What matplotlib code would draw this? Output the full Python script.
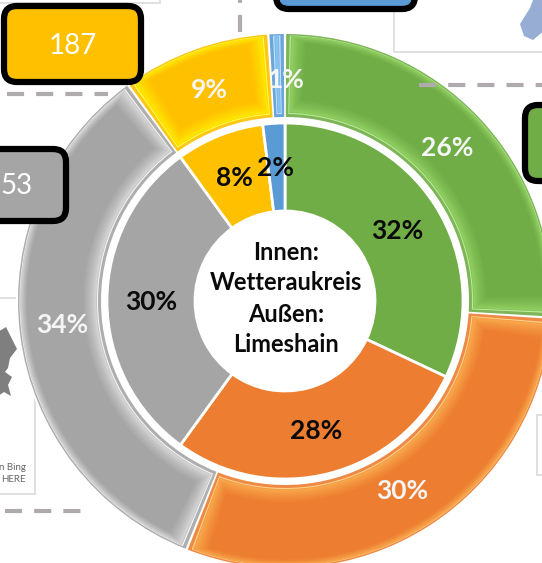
import matplotlib
matplotlib.use('Agg')
import matplotlib.pyplot as plt
import numpy as np
from matplotlib.colors import to_rgb
from matplotlib.patches import Wedge, FancyBboxPatch, Rectangle, Polygon

plt.rcParams['font.family'] = ['Lato', 'DejaVu Sans']

# clockwise from 12 o'clock
outer_values = [26, 30, 34, 9, 1]
inner_values = [32, 28, 30, 8, 2]
outer_labels = ['26%', '30%', '34%', '9%', '1%']
inner_labels = ['32%', '28%', '30%', '8%', '2%']
base_colors = ['#70AD47', '#ED7D31', '#A5A5A5', '#FFC000', '#5B9BD5']
glow_colors = ['#A4E472', '#FFC35C', '#F4F4F4', '#FFFF00', '#A6DCFF']
center_lines = ['Innen:', 'Wetteraukreis', 'Außen:', 'Limeshain']

W, H = 542, 563
cx, cy = 285, H - 301


def py(y):
    return H - y


def mix(a, b, t):
    a, b = np.array(to_rgb(a)), np.array(to_rgb(b))
    return tuple(a + (b - a) * t)


def ring_angles(values):
    edges = np.cumsum([0] + values) / sum(values) * 360
    return [(90 - e2, 90 - e1) for e1, e2 in zip(edges[:-1], edges[1:])]


def add_wedge(ax, r_out, r_in, a1, a2, color, inset=0, outer_share=0.5):
    # outer arc is inset less than the inner arc and the ends
    r_top = r_out - inset * outer_share
    r_bot = r_in + inset
    da = np.degrees(inset / ((r_out + r_in) / 2))
    if a2 - a1 - 2 * da <= 0 or r_top - r_bot <= 0:
        return
    ax.add_patch(Wedge((cx, cy), r_top, a1 + da, a2 - da, width=r_top - r_bot,
                       fc=color, ec='none', zorder=3))


fig = plt.figure(figsize=(W / 100, H / 100), dpi=100)
ax = fig.add_axes([0, 0, 1, 1])
ax.set_xlim(0, W)
ax.set_ylim(0, H)
ax.axis('off')

# map panels behind the chart
panel = dict(fc='white', ec='#DADADA', lw=1.2, zorder=1)
ax.add_patch(Rectangle((-10, py(494)), 45, 196, **panel))
ax.add_patch(Rectangle((394, py(52)), 170, 70, **panel))
ax.add_patch(Rectangle((537, py(475)), 20, 60, **panel))
ax.add_patch(Rectangle((-10, py(3)), 170, 10, **panel))
ax.add_patch(Polygon([(-2, py(332)), (6, py(327)), (11, py(337)), (17, py(349)), (10, py(358)),
                      (8, py(368)), (5, py(372)), (12, py(377)), (8, py(385)), (11, py(396)),
                      (4, py(392)), (-2, py(396))], fc='#7F7F7F', ec='none', zorder=1))
ax.add_patch(Polygon([(520, py(24)), (530, py(8)), (533, py(0)), (545, py(0)), (545, py(30)),
                      (533, py(40)), (524, py(36))], fc='#97ADD3', ec='none', zorder=1))
ax.text(26, py(467), 'n Bing', ha='right', va='center', fontsize=7, color='#666666')
ax.text(26, py(479), 'HERE', ha='right', va='center', fontsize=7, color='#666666')

# white disc behind rings
ax.add_patch(Wedge((cx, cy), 269, 0, 360, fc='white', ec='none', zorder=2))

# dashed leader lines
dash = dict(color='#AFAAAE', lw=3, linestyle=(0, (4.1, 2.9)), zorder=4, dash_capstyle='butt')
ax.plot([7, 108], [py(94), py(94)], **dash)
ax.plot([5, 82], [py(511), py(511)], **dash)
ax.plot([419, 560], [py(85), py(85)], **dash)
ax.plot([240, 240], [py(32), py(-5)], **dash)

# outer ring with bevel
R_out, R_in = 267, 184
for (a1, a2), base, glow in zip(ring_angles(outer_values), base_colors, glow_colors):
    a1, a2 = a1 + 0.25, a2 - 0.25
    add_wedge(ax, R_out, R_in, a1, a2, mix(base, 'white', 0.1))
    add_wedge(ax, R_out, R_in, a1, a2, mix(glow, 'white', 0.3), inset=3)
    add_wedge(ax, R_out, R_in, a1, a2, mix(base, glow, 0.45), inset=4)
    for d in np.arange(5, 22, 1.0):
        add_wedge(ax, R_out, R_in, a1, a2, mix(glow, base, min(1, ((d - 2) / 16) ** 0.55)), inset=d)

# inner ring flat
r_out, r_in = 178, 90
for (a1, a2), base in zip(ring_angles(inner_values), base_colors):
    ax.add_patch(Wedge((cx, cy), r_out, a1, a2, width=r_out - r_in, fc=base,
                       ec='white', lw=2, zorder=3))

# labels
for txt, x, y in zip(outer_labels, [447, 402, 62, 209, 286], [148, 491, 325, 90, 80]):
    ax.text(x, py(y), txt, ha='center', va='center', color='#F5F5F5',
            fontsize=19, fontweight='bold', zorder=5)
for txt, x, y in zip(inner_labels, [397, 316, 151, 234, 275], [231, 431, 302, 178, 168]):
    ax.text(x, py(y), txt, ha='center', va='center', color='#0A0A0A',
            fontsize=19, fontweight='bold', zorder=5)
for txt, y in zip(center_lines, [253, 283, 314, 344]):
    ax.text(286, py(y), txt, ha='center', va='center', color='#0A0A0A',
            fontsize=17, fontweight='bold', zorder=5)

# callout boxes
box = dict(boxstyle='round,pad=0,rounding_size=13', ec='black', lw=4.5, zorder=6)
ax.add_patch(FancyBboxPatch((4, py(82)), 137, 76, fc='#FFC000', **box))
ax.add_patch(FancyBboxPatch((-30, py(221)), 96, 72, fc='#A5A5A5', **box))
ax.add_patch(FancyBboxPatch((276, py(9)), 139, 40, fc='#5B9BD5', **box))
ax.add_patch(FancyBboxPatch((525, py(181)), 60, 76, fc='#70AD47', **box))
ax.text(73, py(46), '187', ha='center', va='center', color='white', fontsize=20, zorder=7)
ax.text(0, py(186), '53', ha='left', va='center', color='white', fontsize=20, zorder=7)

fig.savefig('out.png', dpi=100)
